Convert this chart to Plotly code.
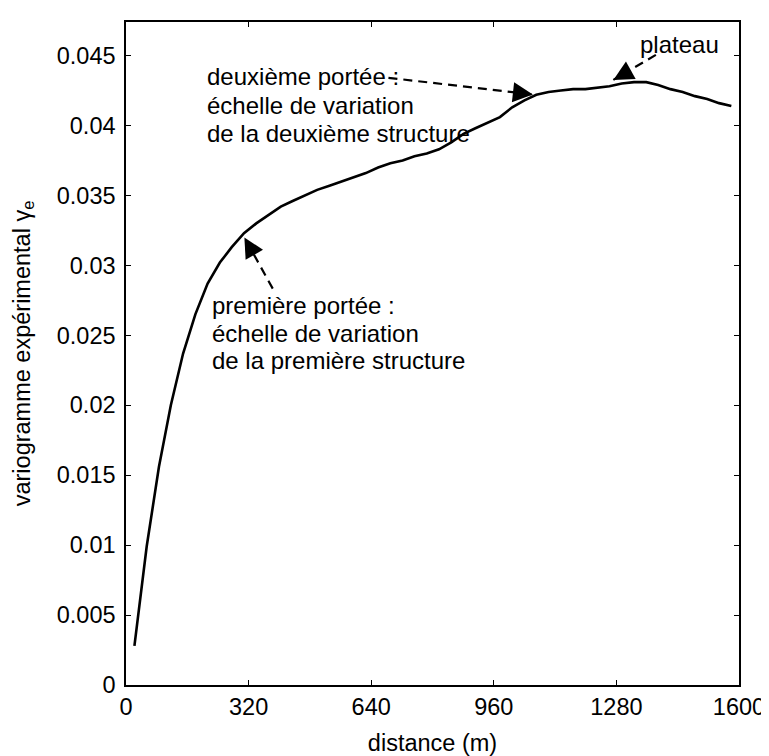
import plotly.graph_objects as go

distance = [22, 54, 86, 117, 149, 181, 213, 245, 276, 308,
            340, 372, 404, 435, 467, 499, 531, 563, 594, 626,
            658, 690, 722, 753, 785, 817, 849, 881, 912, 944,
            976, 1008, 1040, 1071, 1103, 1135, 1167, 1199, 1230, 1262,
            1294, 1326, 1358, 1389, 1421, 1453, 1485, 1517, 1548, 1580]
gamma_e = [0.0028, 0.0099, 0.0156, 0.0200, 0.0237, 0.0265, 0.0287, 0.0302, 0.0313, 0.0323,
           0.0330, 0.0336, 0.0342, 0.0346, 0.0350, 0.0354, 0.0357, 0.0360, 0.0363, 0.0366,
           0.0370, 0.0373, 0.0375, 0.0378, 0.0380, 0.0383, 0.0388, 0.0394, 0.0398, 0.0402,
           0.0406, 0.0413, 0.0418, 0.0422, 0.0424, 0.0425, 0.0426, 0.0426, 0.0427, 0.0428,
           0.0430, 0.0431, 0.0431, 0.0429, 0.0426, 0.0424, 0.0421, 0.0419, 0.0416, 0.0414]

x_ticks = [0, 320, 640, 960, 1280, 1600]
y_ticks = [0, 0.005, 0.01, 0.015, 0.02, 0.025, 0.03, 0.035, 0.04, 0.045]
y_ticktext = ["0", "0.005", "0.01", "0.015", "0.02", "0.025", "0.03", "0.035", "0.04", "0.045"]

lines_deuxieme = ["deuxième portée :", "échelle de variation", "de la deuxième structure"]
lines_premiere = ["première portée :", "échelle de variation", "de la première structure"]

FONT = "Liberation Sans, Arial, Helvetica, sans-serif"

fig = go.Figure()
fig.add_trace(go.Scatter(x=distance, y=gamma_e, mode="lines",
                         line=dict(color="black", width=2.6), showlegend=False))

# dashed arrows: (tail x, tail y, tip x, tip y, head offset in px)
arrows = [
    (685, 0.04341, 1062, 0.04222, (-16, -1.8)),   # deuxieme portee
    (1383, 0.04505, 1272, 0.04326, (14, -7.8)),   # plateau
    (383, 0.02834, 309, 0.03200, (8, 14)),        # premiere portee
]
for x0, y0, x1, y1, (hx, hy) in arrows:
    fig.add_shape(type="line", xref="x", yref="y", x0=x0, y0=y0, x1=x1, y1=y1,
                  line=dict(color="black", width=2.2, dash="9px,6px"))
    fig.add_annotation(x=x1, y=y1, ax=hx, ay=hy, text="", showarrow=True,
                       arrowhead=2, arrowsize=2.0, arrowwidth=2, arrowcolor="black")

txt_font = dict(family=FONT, size=24, color="black")
# one annotation per line to keep the tighter line spacing of the original
for txt, yv in zip(lines_deuxieme, [0.04350, 0.04145, 0.03945]):
    fig.add_annotation(x=207, y=yv, xanchor="left", yanchor="middle", align="left",
                       text=txt, showarrow=False, font=txt_font)
for txt, yv in zip(lines_premiere, [0.02714, 0.02513, 0.02318]):
    fig.add_annotation(x=220, y=yv, xanchor="left", yanchor="middle", align="left",
                       text=txt, showarrow=False, font=txt_font)
fig.add_annotation(x=1444, y=0.04580, xanchor="center", yanchor="middle",
                   text="plateau", showarrow=False, font=txt_font)

axis_common = dict(showline=True, linecolor="black", linewidth=1.5, mirror="ticks",
                   ticks="inside", ticklen=5, tickcolor="black", showgrid=False,
                   zeroline=False, ticklabeloverflow="allow",
                   tickfont=dict(family=FONT, size=23.5, color="black"))

fig.update_xaxes(range=[0, 1600], tickmode="array", tickvals=x_ticks,
                 ticklabelstandoff=0,
                 title=dict(text="distance (m)", font=dict(family=FONT, size=23.5, color="black"),
                            standoff=16),
                 **axis_common)
fig.update_yaxes(range=[0, 0.0474], tickmode="array", tickvals=y_ticks, ticktext=y_ticktext,
                 ticklabelstandoff=4,
                 title=dict(text="variogramme expérimental γ<sub>e</sub>",
                            font=dict(family=FONT, size=23.5, color="black"), standoff=20),
                 **axis_common)

fig.update_layout(width=769, height=756, autosize=False,
                  margin=dict(l=117, r=26, t=12, b=78, pad=0),
                  plot_bgcolor="white", paper_bgcolor="white",
                  font=dict(family=FONT, size=23.5, color="black"))

fig.write_html("out.html")
